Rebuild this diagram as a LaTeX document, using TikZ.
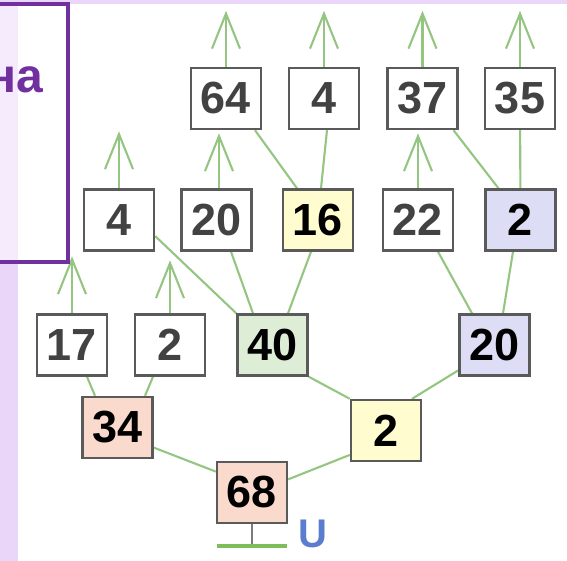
\documentclass[tikz,border=0pt]{standalone}
\usepackage{fontspec}
\setmainfont{Liberation Sans}
\usepackage{tikz}
\usetikzlibrary{arrows.meta, backgrounds}

\definecolor{lilac}{RGB}{234,214,248}
\definecolor{lilaclight}{RGB}{245,235,252}
\definecolor{framepurple}{RGB}{112,48,160}
\definecolor{edgegreen}{RGB}{148,198,130}
\definecolor{groundgreen}{RGB}{125,190,90}
\definecolor{boxgray}{RGB}{90,90,90}
\definecolor{numgray}{RGB}{66,66,66}
\definecolor{peach}{RGB}{250,218,204}
\definecolor{paleyellow}{RGB}{255,252,208}
\definecolor{palegreen}{RGB}{222,238,214}
\definecolor{paleblue}{RGB}{221,221,245}
\definecolor{ublue}{RGB}{90,125,205}

\begin{document}
\begin{tikzpicture}[
  x=1pt, y=-1pt,
  box/.style={draw=boxgray, line width=2.4pt, fill=white, minimum width=70pt, minimum height=61pt, inner sep=0pt, text=numgray, font=\fontsize{45}{45}\selectfont\bfseries},
  hibox/.style={box, text=black},
  line/.style={draw=edgegreen, line width=2.1pt},
  arrow/.style={line, -{Straight Barb[length=35pt, width=28pt]}}
]
\useasboundingbox (0,0) rectangle (567,561);

\begin{scope}
\clip (0,0) rectangle (567,561);
\draw[framepurple, line width=4pt] (-10,4.5) rectangle (68,262);
\node[anchor=base east, inner sep=0pt, text=framepurple, font=\fontsize{48}{48}\selectfont\bfseries] (title) at (43,93) {на};
\end{scope}

\node[box] (a64) at (226,98.5) {64};
\node[box] (a4) at (324,98.5) {4};
\node[box] (a37) at (422.5,98.5) {37};
\node[box] (a35) at (520,98.5) {35};

\node[box] (b4) at (119,220) {4};
\node[box] (b20) at (216.5,220) {20};
\node[hibox, fill=paleyellow] (b16) at (318,220) {16};
\node[box] (b22) at (418,220) {22};
\node[hibox, fill=paleblue] (b2) at (520.5,220) {2};

\node[box] (c17) at (72,345) {17};
\node[box] (c2) at (170,345) {2};
\node[hibox, fill=palegreen] (c40) at (272.5,345) {40};
\node[hibox, fill=paleblue] (c20) at (494.5,345) {20};

\node[hibox, fill=peach] (d34) at (117.5,427.5) {34};
\node[hibox, fill=paleyellow] (d2) at (386,430.5) {2};

\node[hibox, fill=peach] (e68) at (252,492.5) {68};

\node[font=\fontsize{40}{40}\selectfont\bfseries, text=ublue, inner sep=0pt] (u) at (313,534) {U};

\begin{scope}[on background layer]
\fill[white] (0,0) rectangle (567,561);
\fill[lilac] (0,0) rectangle (567,4);
\fill[lilac] (0,0) rectangle (18,561);
\fill[lilaclight] (0,6) rectangle (18,260);

\draw[line] ([xshift=29pt]a64.south) -- ([xshift=-21pt]b16.north);
\draw[line] ([xshift=3pt]a4.south) -- ([xshift=3pt]b16.north);
\draw[line] ([xshift=31pt]a37.south) -- ([xshift=-22pt]b2.north);
\draw[line] (a35) -- (b2);
\draw[line] (b4.-24) -- (c40.north west);
\draw[line] ([xshift=14.5pt]b20.south) -- ([xshift=-19.5pt]c40.north);
\draw[line] ([xshift=-7pt]b16.south) -- ([xshift=15.5pt]c40.north);
\draw[line] ([xshift=20pt]b22.south) -- ([xshift=-22.5pt]c20.north);
\draw[line] ([xshift=-7.5pt]b2.south) -- ([xshift=8.5pt]c20.north);
\draw[line] ([xshift=15pt]c17.south) -- ([xshift=-22.5pt]d34.north);
\draw[line] ([xshift=-17pt]c2.south) -- ([xshift=27.5pt]d34.north);
\draw[line] (c40.south east) -- (d2.north west);
\draw[line] (c20.-145) -- ([xshift=26pt]d2.north);
\draw[line] (d34.-29) -- (e68.150);
\draw[line] (e68.20) -- (d2.-146);

\draw[arrow] (a64.north) -- ++(0,-56);
\draw[arrow] (a4.north) -- ++(0,-56);
\draw[arrow] (a37.north) -- ++(0,-56);
\draw[arrow] (a35.north) -- ++(0,-56);
\draw[arrow] (b4.north) -- ++(0,-57);
\draw[arrow] ([xshift=2.5pt]b20.north) -- ++(0,-55);
\draw[arrow] (b22.north) -- ++(0,-55);
\draw[arrow] (c17.north) -- ++(0,-57);
\draw[arrow] (c2.north) -- ++(0,-53);

\draw[draw=boxgray!80, line width=1.5pt] (e68.south) -- ++(0,22) coordinate (gnd);
\draw[draw=groundgreen, line width=4pt] ([xshift=-35pt]gnd) -- ([xshift=35pt]gnd);
\end{scope}
\end{tikzpicture}
\end{document}
